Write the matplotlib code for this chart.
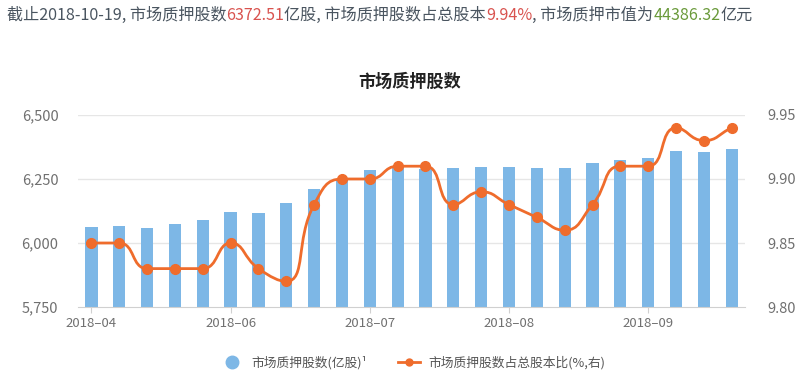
import numpy as np
import matplotlib
matplotlib.use("Agg")
import matplotlib.pyplot as plt
from matplotlib.path import Path
from matplotlib.patches import PathPatch
from matplotlib.lines import Line2D

plt.rcParams['font.family'] = ['Noto Sans CJK SC', 'DejaVu Sans']

# ---- 数据 ----
weeks = list(range(24))
tick_pos = [0, 5, 10, 15, 20]
tick_labels = ["2018–04", "2018–06", "2018–07", "2018–08", "2018–09"]
pledged_shares = [6062, 6067, 6058, 6075, 6089, 6123, 6119, 6158, 6210, 6249,
                  6285, 6292, 6289, 6293, 6297, 6297, 6293, 6293, 6311, 6324,
                  6332, 6358, 6354, 6367]
pledged_ratio = [9.85, 9.85, 9.83, 9.83, 9.83, 9.85, 9.83, 9.82, 9.88, 9.90,
                 9.90, 9.91, 9.91, 9.88, 9.89, 9.88, 9.87, 9.86, 9.88, 9.91,
                 9.91, 9.94, 9.93, 9.94]

header_parts = [
    ("截止2018-10-19, 市场质押股数", "#4a5560"),
    ("6372.51", "#d9534f"),
    ("亿股, 市场质押股数占总股本", "#4a5560"),
    ("9.94%", "#d9534f"),
    (", 市场质押市值为", "#4a5560"),
    ("44386.32", "#6a9a3a"),
    ("亿元", "#4a5560"),
]

BAR_C = "#7db7e6"
LINE_C = "#ef6c2c"
GRID_C = "#e6e6e6"
TICK_C = "#707070"


def smooth_path(xs, ys, sx, sy, smooth=0.5):
    # echarts 风格平滑: 控制点在相邻点之间夹紧, 不过冲
    px = np.asarray(xs, float) * sx
    py = np.asarray(ys, float) * sy
    n = len(px)
    verts = [(px[0], py[0])]
    codes = [Path.MOVETO]
    cps = []
    for i in range(n):
        x, y = px[i], py[i]
        pxv, pyv = (px[i - 1], py[i - 1]) if i > 0 else (x, y)
        nxv, nyv = (px[i + 1], py[i + 1]) if i < n - 1 else (x, y)
        vx, vy = nxv - pxv, nyv - pyv
        l0 = np.hypot(x - pxv, y - pyv)
        l1 = np.hypot(nxv - x, nyv - y)
        r = l1 / (l0 + l1) if (l0 + l1) > 0 else 0.5
        cnx, cny = x + vx * smooth * r, y + vy * smooth * r
        cpx_, cpy_ = x - vx * smooth * (1 - r), y - vy * smooth * (1 - r)
        # 夹紧
        cnx = min(max(cnx, min(x, nxv)), max(x, nxv))
        cny = min(max(cny, min(y, nyv)), max(y, nyv))
        dx, dy = cnx - x, cny - y
        if l1 > 0:
            cpx_, cpy_ = x - dx * l0 / l1, y - dy * l0 / l1
        cpx_ = min(max(cpx_, min(x, pxv)), max(x, pxv))
        cpy_ = min(max(cpy_, min(y, pyv)), max(y, pyv))
        dx, dy = cpx_ - x, cpy_ - y
        if l0 > 0:
            cnx, cny = x - dx * l1 / l0, y - dy * l1 / l0
        cps.append(((cpx_, cpy_), (cnx, cny)))
    for i in range(n - 1):
        verts += [cps[i][1], cps[i + 1][0], (px[i + 1], py[i + 1])]
        codes += [Path.CURVE4] * 3
    verts = [(vx_ / sx, vy_ / sy) for vx_, vy_ in verts]
    return Path(verts, codes)


fig = plt.figure(figsize=(8.02, 3.78), dpi=100)
ax = fig.add_axes([0.0973, 0.1878, 0.8317, 0.508])
ax2 = ax.twinx()

ax.bar(weeks, pledged_shares, width=0.44, color=BAR_C, zorder=2)
ax.set_ylim(5750, 6500)
ax.set_yticks([5750, 6000, 6250, 6500])
ax.set_yticklabels([f"{v:,}" for v in [5750, 6000, 6250, 6500]])
ax.set_xlim(-0.48, 23.48)
ax.set_xticks(tick_pos)
ax.set_xticklabels(tick_labels)
for yv in [6000, 6250, 6500]:
    ax.axhline(yv, color=GRID_C, lw=1, zorder=0)

ax2.set_ylim(9.80, 9.95)
ax2.set_yticks([9.80, 9.85, 9.90, 9.95])
ax2.set_yticklabels(["9.80", "9.85", "9.90", "9.95"])
path = smooth_path(weeks, pledged_ratio, 27.8, 1280)
ax2.add_patch(PathPatch(path, facecolor="none", edgecolor=LINE_C, lw=2, zorder=3))
ax2.plot(weeks, pledged_ratio, "o", color=LINE_C, ms=7, zorder=4)

for a in (ax, ax2):
    for s in a.spines.values():
        s.set_visible(False)
ax.spines["bottom"].set_visible(True)
ax.spines["bottom"].set_color("#d0d0d0")
ax.tick_params(axis="x", length=4, color="#d0d0d0", labelsize=9.5, labelcolor=TICK_C, pad=3)
ax.tick_params(axis="y", length=0, labelsize=10.5, labelcolor=TICK_C, pad=14)
ax2.tick_params(axis="y", length=0, labelsize=10.5, labelcolor=TICK_C, pad=16)

fig.text(0.511, 0.783, "市场质押股数", ha="center", va="center",
         fontsize=12.3, fontweight="bold", color="#222222")

# 顶部说明文字, 分段着色
fig.canvas.draw()
r = fig.canvas.get_renderer()
xcur = 7
for txt, col in header_parts:
    t = fig.text(xcur / 802, 1 - 15 / 378, txt, ha="left", va="center",
                 fontsize=11.6, color=col)
    xcur = t.get_window_extent(r).x1

# 图例
handles = [
    Line2D([], [], ls="none", marker="o", ms=9, color=BAR_C),
    Line2D([], [], color=LINE_C, lw=2, marker="o", ms=5),
]
fig.legend(handles, ["市场质押股数(亿股)¹", "市场质押股数占总股本比(%,右)"],
           loc="center", bbox_to_anchor=(0.515, 0.04), ncol=2, frameon=False,
           fontsize=9.2, labelcolor="#555555", handlelength=1.7, columnspacing=2.4,
           handletextpad=0.7)

plt.savefig("out.png", dpi=100)
plt.close()
